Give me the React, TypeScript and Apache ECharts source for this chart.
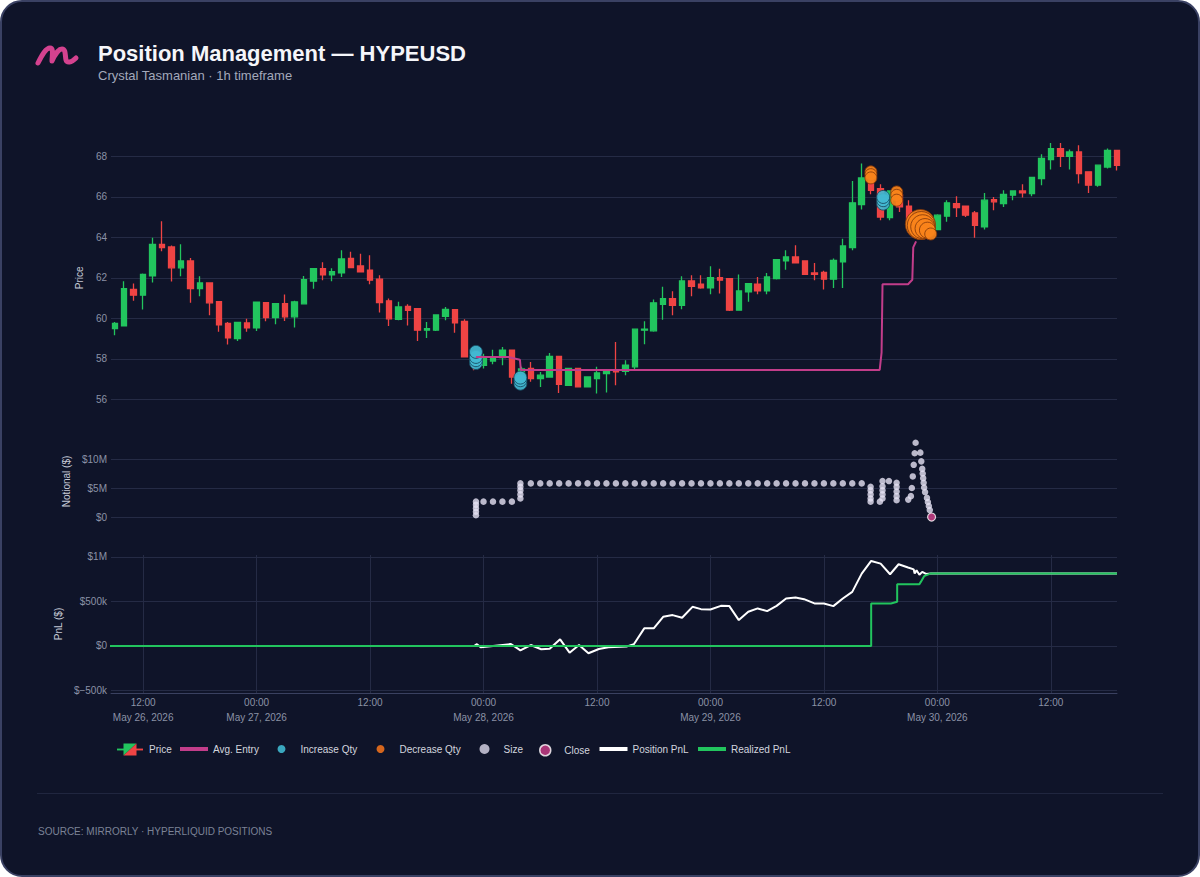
import React, { useEffect, useRef } from 'react';
import * as echarts from 'echarts';

// Time is expressed in hours since May 26, 2026 00:00
const FIRST_CANDLE_HOUR = 9;
const X_MIN = 8.6;
const X_MAX = 115;

const candleOpen = [
  59.49, 59.62, 61.43, 61.14, 62.09, 63.65, 63.52, 62.49, 62.83, 61.46,
  61.74, 60.82, 59.75, 59.0, 59.77, 59.52, 60.77, 60.03, 60.72, 60.07,
  60.71, 61.83, 62.45, 62.14, 62.24, 62.95, 62.58, 62.37, 61.93, 60.86,
  59.95, 60.59, 60.48, 59.41, 59.41, 60.1, 60.43, 59.85, 58.09, 57.68,
  57.89, 58.06, 58.42, 57.2, 57.52, 57.02, 57.1, 58.12, 56.69, 57.52,
  56.61, 57.02, 57.27, 57.43, 57.38, 57.6, 59.41, 59.38, 60.69, 60.97,
  60.64, 61.84, 61.68, 61.5, 62.01, 61.96, 60.4, 61.3, 61.68, 61.35,
  61.96, 62.83, 63.03, 62.83, 62.24, 62.26, 61.93, 62.78, 63.49, 65.61,
  66.81, 66.4, 64.97, 66.1, 65.53, 64.87, 64.4, 64.38, 65.04, 65.66,
  65.53, 65.2, 64.51, 65.86, 65.66, 66.08, 66.29, 66.16, 66.9, 67.84,
  68.38, 68.0, 68.21, 67.23, 66.57, 67.47, 68.29,
];
const candleClose = [
  59.74, 61.46, 61.14, 62.17, 63.65, 63.49, 62.49, 62.83, 61.46, 61.74,
  60.76, 59.67, 59.03, 59.79, 59.52, 60.79, 60.03, 60.72, 60.07, 60.81,
  61.91, 62.45, 62.14, 62.3, 62.93, 62.5, 62.29, 61.88, 60.77, 59.97,
  60.56, 60.39, 59.41, 59.49, 60.16, 60.44, 59.77, 58.09, 57.9, 58.09,
  58.01, 58.42, 57.1, 57.5, 57.02, 57.19, 58.12, 56.73, 57.52, 56.61,
  57.1, 57.3, 57.38, 57.35, 57.68, 59.46, 59.46, 60.76, 60.97, 60.64,
  61.84, 61.58, 61.5, 62.01, 61.88, 60.4, 61.35, 61.71, 61.35, 62.04,
  62.9, 63.03, 62.73, 62.17, 62.17, 61.93, 62.86, 63.57, 65.7, 66.93,
  66.32, 65.0, 66.29, 65.5, 64.87, 64.4, 64.3, 65.09, 65.7, 65.47,
  65.09, 64.59, 65.83, 65.75, 66.12, 66.29, 66.19, 66.95, 67.89, 68.38,
  68.0, 68.21, 67.14, 66.57, 67.56, 68.29, 67.55,
];
const candleLow = [
  59.16, 59.6, 60.86, 60.43, 61.76, 63.31, 61.81, 62.07, 60.76, 61.09,
  60.15, 59.33, 58.7, 58.88, 59.33, 59.37, 59.85, 59.7, 59.87, 59.54,
  60.68, 61.46, 61.88, 61.83, 62.04, 62.5, 62.26, 61.68, 60.28, 59.62,
  59.9, 59.64, 58.88, 59.03, 59.37, 59.9, 59.28, 58.09, 57.43, 57.52,
  57.73, 57.68, 56.77, 56.9, 56.86, 56.61, 57.1, 56.31, 56.66, 56.61,
  56.61, 56.28, 56.33, 56.69, 57.19, 57.4, 58.72, 59.33, 59.93, 60.15,
  60.44, 61.09, 61.46, 61.19, 61.22, 60.36, 60.4, 60.81, 61.19, 61.19,
  61.91, 62.4, 62.73, 62.17, 61.88, 61.42, 61.5, 61.5, 63.36, 65.37,
  66.12, 64.84, 64.84, 65.25, 64.76, 64.1, 63.9, 64.35, 64.76, 65.0,
  65.0, 63.98, 64.38, 65.33, 65.5, 65.83, 65.96, 66.02, 66.57, 67.34,
  67.47, 67.34, 66.65, 66.19, 66.49, 67.39, 67.3,
];
const candleHigh = [
  59.82, 61.83, 61.71, 62.21, 63.98, 64.79, 63.59, 63.65, 62.98, 62.07,
  61.74, 60.82, 59.82, 59.82, 59.98, 60.82, 60.77, 60.72, 61.17, 60.87,
  62.09, 62.45, 62.77, 62.47, 63.36, 63.29, 63.19, 63.11, 62.12, 60.97,
  60.82, 60.69, 60.51, 59.82, 60.2, 60.56, 60.43, 59.95, 58.15, 58.25,
  58.45, 58.58, 58.42, 57.6, 57.84, 57.35, 58.29, 58.12, 57.55, 57.52,
  57.14, 57.6, 57.43, 58.83, 57.93, 59.46, 59.85, 60.92, 61.55, 61.33,
  62.07, 62.12, 62.12, 62.57, 62.45, 61.96, 62.16, 61.74, 62.04, 62.24,
  62.9, 63.36, 63.6, 62.83, 62.73, 62.34, 62.95, 63.93, 66.78, 67.64,
  67.47, 66.62, 66.32, 66.3, 65.83, 65.0, 64.6, 65.14, 65.83, 66.02,
  65.53, 65.3, 66.19, 65.99, 66.32, 66.29, 66.62, 66.98, 68.1, 68.66,
  68.66, 68.33, 68.54, 67.23, 67.59, 68.38, 68.3,
];

const avgEntryHours = [47.2, 50.6, 51.85, 51.95, 89.9, 90.1, 90.2, 92.9, 93.35, 93.45, 93.75];
const avgEntryPrices = [58.09, 58.09, 57.95, 57.45, 57.45, 58.3, 61.68, 61.68, 61.9, 63.5, 63.8];

const incHours = [47.2, 47.2, 47.2, 47.2, 51.9, 51.9, 51.9, 90.27, 90.27, 90.27];
const incPrices = [57.79, 57.93, 58.09, 58.34, 56.77, 56.94, 57.07, 65.66, 65.83, 65.99];
const incMarkerSizes = [13, 13, 13, 13, 13, 13, 13, 13, 13, 13];

const decHours = [88.97, 88.97, 88.97, 91.7, 91.7, 91.7, 94.2, 94.3, 94.45, 94.7, 94.95, 95.3];
const decPrices = [67.23, 67.09, 66.93, 66.24, 66.07, 65.83, 64.63, 64.58, 64.52, 64.43, 64.35, 64.16];
const decMarkerSizes = [12, 12, 12, 12, 12, 12, 30, 28, 24, 20, 16, 12];

const sizeHours = [
  47.2, 47.2, 47.2, 47.2, 47.2, 48, 49, 50, 51,
  51.9, 51.9, 51.9, 51.9, 51.9,
  53, 54, 55, 56, 57, 58, 59, 60, 61, 62, 63, 64, 65, 66, 67, 68, 69, 70,
  71, 72, 73, 74, 75, 76, 77, 78, 79, 80, 81, 82, 83, 84, 85, 86, 87, 88,
  88.94, 88.94, 88.94, 88.94, 88.94, 89.92,
  90.2, 90.2, 90.2, 90.2, 90.2, 90.88,
  91.69, 91.69, 91.69, 91.69, 91.69, 92.92,
  93.2, 93.3, 93.4, 93.5, 93.6, 93.7,
  94.2, 94.3, 94.4, 94.45, 94.5, 94.55, 94.6, 94.7,
  94.9, 95.0, 95.1, 95.2,
];
const sizeNotionalM = [
  0.3, 0.9, 1.5, 2.1, 2.65, 2.65, 2.65, 2.65, 2.65,
  3.2, 3.9, 4.6, 5.2, 5.8,
  5.8, 5.8, 5.8, 5.8, 5.8, 5.8, 5.8, 5.8, 5.8, 5.8, 5.8, 5.8, 5.8, 5.8, 5.8, 5.8, 5.8, 5.8,
  5.8, 5.8, 5.8, 5.8, 5.8, 5.8, 5.8, 5.8, 5.8, 5.8, 5.8, 5.8, 5.8, 5.8, 5.8, 5.8, 5.8, 5.8,
  5.2, 4.6, 3.9, 3.2, 2.65, 2.65,
  3.2, 3.9, 4.6, 5.3, 6.2, 6.2,
  5.9, 5.2, 4.4, 3.6, 2.9, 3.0,
  3.6, 5.0, 7.0, 9.0, 11.0, 12.8,
  11.1, 9.6, 8.3, 7.5, 6.7, 5.9, 5.1, 4.3,
  3.3, 2.6, 1.9, 1.2,
];
const closeHours = [95.39];
const closeNotionalM = [0];

const posPnlHours = [
  8, 47.0, 47.3, 47.7, 49, 50.9, 51.9, 53, 54.1, 55, 56.1, 57.1, 58.1, 59.1, 60.2,
  61.2, 63.1, 63.9, 65, 66, 67, 68, 69, 70.1, 71, 72, 73.1, 74, 75, 76, 77, 78,
  79, 80, 81, 81.9, 83, 84, 85, 86, 87, 88, 89, 90, 91, 91.9, 92.9, 93.5, 93.6,
  93.8, 94.1, 94.4, 94.8, 95.3, 115,
];
const posPnlM = [
  0, 0, 0.02, -0.015, 0, 0.022, -0.05, 0.011, -0.037, -0.03, 0.075, -0.075, 0.011, -0.082, -0.034,
  -0.015, -0.007, 0.019, 0.198, 0.198, 0.328, 0.347, 0.317, 0.44, 0.414, 0.41, 0.451, 0.448, 0.291, 0.384, 0.422, 0.392,
  0.451, 0.534, 0.545, 0.526, 0.478, 0.478, 0.448, 0.534, 0.608, 0.813, 0.955, 0.925, 0.806, 0.918, 0.881, 0.86, 0.813,
  0.85, 0.8, 0.832, 0.81, 0.813, 0.813,
];
const realizedHours = [8, 89.0, 89.0, 91.1, 91.75, 91.75, 94.1, 94.25, 94.6, 95.26, 115];
const realizedM = [0, 0, 0.478, 0.478, 0.496, 0.694, 0.694, 0.72, 0.784, 0.813, 0.813];

const timeTicks = [12, 24, 36, 48, 60, 72, 84, 96, 108];
const priceTicks = [56, 58, 60, 62, 64, 66, 68];
const notionalTicksM = [0, 5, 10];
const pnlTicksM = [-0.5, 0, 0.5, 1];

const FONT = '"Liberation Sans", Arial, Helvetica, sans-serif';
const TICK_COLOR = '#8b92a6';
const GRID_COLOR = '#252b45';
const NAME_COLOR = '#c5c9d6';

const LOGO_D = 'M38,63 C42,55 46,48 50,48 C54,48 52,56 52,61 C55,54 59,49 62,49 C66,49 65,56 66,60 C67,63 71,63 76,58';
echarts.graphic.registerShape('logo', echarts.graphic.extendPath(LOGO_D, {}));

const priceIconSvg =
  "<svg xmlns='http://www.w3.org/2000/svg' width='28' height='14' viewBox='0 0 28 14'>" +
  "<line x1='0' y1='7' x2='8' y2='7' stroke='#22c55e' stroke-width='2'/>" +
  "<line x1='20' y1='7' x2='28' y2='7' stroke='#ef4444' stroke-width='2'/>" +
  "<polygon points='7,0.5 21,0.5 7,13.5' fill='#22c55e'/>" +
  "<polygon points='21,0.5 21,13.5 7,13.5' fill='#ef4444'/></svg>";
const PRICE_ICON = 'image://data:image/svg+xml;charset=utf-8,' + encodeURIComponent(priceIconSvg);

const fmtTime = (v: number) => {
  const hr = ((v % 24) + 24) % 24;
  const day = 26 + Math.floor(v / 24);
  const hh = String(hr).padStart(2, '0') + ':00';
  return hr === 0 || v === timeTicks[0] ? `${hh}\nMay ${day}, 2026` : hh;
};
const fmtNotional = (v: number) => (v === 0 ? '$0' : `$${v}M`);
const fmtPnl = (v: number) => {
  if (v === 0) return '$0';
  const sign = v < 0 ? '\u2212' : '';
  const a = Math.abs(v);
  return a >= 1 ? `$${sign}${a}M` : `$${sign}${Math.round(a * 1000)}k`;
};

function xAxis(gridIndex: number, show: boolean) {
  return {
    type: 'value',
    gridIndex,
    min: X_MIN,
    max: X_MAX,
    axisLine: { show, onZero: false, lineStyle: { color: '#3a4160', width: 1 } },
    axisTick: { show: false, customValues: timeTicks },
    axisLabel: {
      show,
      customValues: timeTicks,
      formatter: fmtTime,
      color: TICK_COLOR,
      fontSize: 10,
      lineHeight: 15,
      margin: 2,
      fontFamily: FONT,
    },
    splitLine: { show, lineStyle: { color: GRID_COLOR, width: 1 } },
  };
}

function yAxis(gridIndex: number, min: number, max: number, ticks: number[], name: string, nameGap: number, formatter?: any) {
  return {
    type: 'value',
    gridIndex,
    min,
    max,
    name,
    nameLocation: 'middle',
    nameGap,
    nameRotate: 90,
    nameTextStyle: { color: NAME_COLOR, fontSize: 10, fontFamily: FONT },
    axisLine: { show: false },
    axisTick: { show: false, customValues: ticks },
    axisLabel: {
      customValues: ticks,
      formatter,
      color: TICK_COLOR,
      fontSize: 10,
      margin: 4,
      fontFamily: FONT,
    },
    splitLine: { show: true, lineStyle: { color: GRID_COLOR, width: 1 } },
  };
}

function legendAt(left: number, itemHeight: number, item: any) {
  return {
    left,
    top: 749.5 - Math.max(itemHeight, 11) / 2,
    itemWidth: 28,
    itemHeight,
    itemGap: 0,
    padding: 0,
    selectedMode: false,
    textStyle: { color: '#d3d6df', fontSize: 10, fontFamily: FONT, padding: [0, 0, 0, 0] },
    data: [item],
  };
}

export default function App() {
  const ref = useRef<HTMLDivElement>(null);

  useEffect(() => {
    document.body.style.margin = '0';
    if (!ref.current) return;
    const chart = echarts.init(ref.current, null, { renderer: 'svg' });

    const candles = candleOpen.map((o, i) => [FIRST_CANDLE_HOUR + i, o, candleClose[i], candleLow[i], candleHigh[i]]);
    const avgEntry = avgEntryHours.map((h, i) => [h, avgEntryPrices[i]]);
    const inc = incHours.map((h, i) => [h, incPrices[i], incMarkerSizes[i]]);
    const dec = decHours.map((h, i) => [h, decPrices[i], decMarkerSizes[i]]);
    const sizes = sizeHours.map((h, i) => [h, sizeNotionalM[i]]);
    const closes = closeHours.map((h, i) => [h, closeNotionalM[i]]);
    const posPnl = posPnlHours.map((h, i) => [h, posPnlM[i]]);
    const realized = realizedHours.map((h, i) => [h, realizedM[i]]);

    const option: any = {
      animation: false,
      backgroundColor: 'transparent',
      textStyle: { fontFamily: FONT },
      grid: [
        { left: 111, width: 1006, top: 136, height: 283.5 },
        { left: 111, width: 1006, top: 436, height: 91 },
        { left: 111, width: 1006, top: 555, height: 138 },
      ],
      xAxis: [xAxis(0, false), xAxis(1, false), xAxis(2, true)],
      yAxis: [
        yAxis(0, 55, 69, priceTicks, 'Price', 25),
        yAxis(1, -1.72, 13.97, notionalTicksM, 'Notional ($)', 39, fmtNotional),
        yAxis(2, -0.528, 1.022, pnlTicksM, 'PnL ($)', 45, fmtPnl),
      ],
      legend: [
        legendAt(116, 13, { name: 'Price', icon: PRICE_ICON }),
        legendAt(180, 4, { name: 'Avg. Entry', icon: 'rect', itemStyle: { color: '#c23d8a', borderWidth: 0 } }),
        legendAt(277.5, 8, { name: 'Increase Qty', icon: 'circle', itemStyle: { color: '#3aa7be', borderWidth: 0, opacity: 1 } }),
        legendAt(376.5, 8, { name: 'Decrease Qty', icon: 'circle', itemStyle: { color: '#d5661d', borderWidth: 0, opacity: 1 } }),
        legendAt(479.5, 10, { name: 'Size', icon: 'circle', itemStyle: { color: '#dcd8ea', borderWidth: 0 } }),
        legendAt(539, 11, { name: 'Close', icon: 'circle', itemStyle: { color: '#cf3f8b', borderColor: '#ffffff', borderWidth: 1.5 } }),
        legendAt(599.5, 4, { name: 'Position PnL', icon: 'rect', itemStyle: { color: '#ffffff', borderWidth: 0 } }),
        legendAt(698, 4, { name: 'Realized PnL', icon: 'rect', itemStyle: { color: '#22c55e', borderWidth: 0 } }),
      ],
      graphic: {
        elements: [
          {
            type: 'logo',
            x: 0,
            y: 0,
            style: { stroke: '#d4428f', lineWidth: 5, fill: 'none', lineCap: 'round', lineJoin: 'round' },
          },
          {
            type: 'text',
            x: 98,
            y: 53.5,
            style: { text: 'Position Management \u2014 HYPEUSD', fill: '#f5f6fa', fontSize: 22, fontWeight: 'bold', fontFamily: FONT, verticalAlign: 'middle' },
          },
          {
            type: 'text',
            x: 98,
            y: 75.5,
            style: { text: 'Crystal Tasmanian \u00b7 1h timeframe', fill: '#a3a9bb', fontSize: 13, fontFamily: FONT, verticalAlign: 'middle' },
          },
          {
            type: 'line',
            shape: { x1: 37, y1: 793.5, x2: 1163, y2: 793.5 },
            style: { stroke: '#20263f', lineWidth: 1 },
          },
          {
            type: 'text',
            x: 38,
            y: 831,
            style: { text: 'SOURCE: MIRRORLY \u00b7 HYPERLIQUID POSITIONS', fill: '#7b8296', fontSize: 10, fontFamily: FONT, verticalAlign: 'middle' },
          },
        ],
      },
      series: [
        {
          type: 'candlestick',
          name: 'Price',
          xAxisIndex: 0,
          yAxisIndex: 0,
          data: candles,
          encode: { x: 0, y: [1, 2, 3, 4] },
          barWidth: 6,
          silent: true,
          itemStyle: { color: '#22c55e', color0: '#ef4444', borderColor: '#22c55e', borderColor0: '#ef4444', borderWidth: 1.3 },
        },
        {
          type: 'line',
          name: 'Avg. Entry',
          xAxisIndex: 0,
          yAxisIndex: 0,
          data: avgEntry,
          symbol: 'none',
          silent: true,
          lineStyle: { color: '#c23d8a', width: 2 },
          itemStyle: { color: '#c23d8a' },
        },
        {
          type: 'scatter',
          name: 'Increase Qty',
          xAxisIndex: 0,
          yAxisIndex: 0,
          data: inc,
          symbolSize: (v: number[]) => v[2],
          silent: true,
          itemStyle: { color: '#42b9d1', opacity: 0.92, borderColor: 'rgba(22,70,92,0.9)', borderWidth: 1 },
        },
        {
          type: 'scatter',
          name: 'Decrease Qty',
          xAxisIndex: 0,
          yAxisIndex: 0,
          data: dec,
          symbolSize: (v: number[]) => v[2],
          silent: true,
          itemStyle: { color: '#f8831a', opacity: 0.92, borderColor: 'rgba(130,55,10,0.9)', borderWidth: 1 },
        },
        {
          type: 'scatter',
          name: 'Size',
          xAxisIndex: 1,
          yAxisIndex: 1,
          data: sizes,
          symbolSize: 6.5,
          silent: true,
          itemStyle: { color: '#e6e2f4' },
        },
        {
          type: 'scatter',
          name: 'Close',
          xAxisIndex: 1,
          yAxisIndex: 1,
          data: closes,
          symbolSize: 8,
          silent: true,
          itemStyle: { color: '#d6418c', borderColor: '#ffffff', borderWidth: 1.2 },
        },
        {
          type: 'line',
          name: 'Position PnL',
          xAxisIndex: 2,
          yAxisIndex: 2,
          data: posPnl,
          symbol: 'none',
          silent: true,
          lineStyle: { color: '#ffffff', width: 2 },
          itemStyle: { color: '#ffffff' },
        },
        {
          type: 'line',
          name: 'Realized PnL',
          xAxisIndex: 2,
          yAxisIndex: 2,
          data: realized,
          symbol: 'none',
          silent: true,
          lineStyle: { color: '#22c55e', width: 2 },
          itemStyle: { color: '#22c55e' },
        },
      ],
    };

    chart.setOption(option);
    return () => chart.dispose();
  }, []);

  return (
    <div style={{ position: 'relative', width: 1200, height: 877, background: '#ffffff', overflow: 'hidden' }}>
      <div
        style={{
          position: 'absolute',
          left: 0,
          top: 0,
          width: 1200,
          height: 877,
          boxSizing: 'border-box',
          border: '2px solid #3a4163',
          borderRadius: 22,
          background: '#0f1429',
        }}
      />
      <div ref={ref} style={{ position: 'absolute', left: 0, top: 0, width: 1200, height: 877 }} />
    </div>
  );
}
